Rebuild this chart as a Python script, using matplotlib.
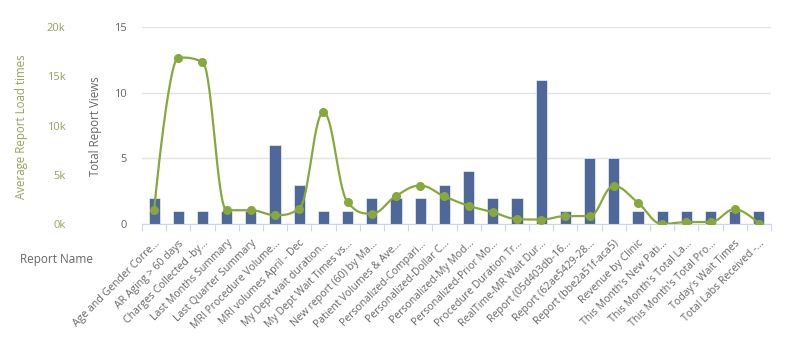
import numpy as np
import matplotlib
matplotlib.use("Agg")
import matplotlib.pyplot as plt
from matplotlib.ticker import FixedLocator, NullFormatter, FuncFormatter

plt.rcParams['font.family'] = ['Open Sans', 'DejaVu Sans']

report_names = [
    "Age and Gender Corre...", "AR Aging > 60 days", "Charges Collected -by...",
    "Last Months Summary", "Last Quarter Summary", "MRI Procedure Volume...",
    "MRI volumes April - Dec", "My Dept wait duration...", "My Dept Wait Times vs...",
    "New report (60) by Ma...", "Patient Volumes & Ave...", "Personalized-Compari...",
    "Personalized-Dollar C...", "Personalized-My Mod...", "Personalized-Prior Mo...",
    "Procedure Duration Tr...", "RealTime-MR Wait Dur...", "Report (05d403db-16...",
    "Report (62ae5429-28...", "Report (bbe2a51f-aca5)", "Revenue by Clinic",
    "This Month's New Pati...", "This Month's Total La...", "This Month's Total Pro...",
    "Today's Wait Times", "Total Labs Received -...",
]
total_views = [2, 1, 1, 1, 1, 6, 3, 1, 1, 2, 2, 2, 3, 4, 2, 2, 11, 1, 5, 5, 1, 1, 1, 1, 1, 1]
avg_load_times = [1400, 16900, 16450, 1400, 1400, 900, 1550, 11350, 2200, 1050,
                  2850, 3900, 2800, 1850, 1200, 500, 450, 800, 800, 3850,
                  2150, 0, 200, 200, 1500, 30]

left_ticks = [0, 5000, 10000, 15000, 20000]
right_ticks = [0, 5, 10, 15]

BAR_COLOR = "#4d6899"
LINE_COLOR = "#87a83a"
LOAD_TEXT = "#94a35a"
GRAY_TEXT = "#666666"


def spline_path(xs, ys, smoothing=1.5, samples=30):
    """Smooth curve through the points using neighbour-based Bezier control points."""
    n = len(xs)
    lc = [(x, y) for x, y in zip(xs, ys)]
    rc = [(x, y) for x, y in zip(xs, ys)]
    d = smoothing + 1
    for i in range(1, n - 1):
        px, py = xs[i], ys[i]
        lx, ly = xs[i - 1], ys[i - 1]
        nx, ny = xs[i + 1], ys[i + 1]
        lcx = (smoothing * px + lx) / d
        lcy = (smoothing * py + ly) / d
        rcx = (smoothing * px + nx) / d
        rcy = (smoothing * py + ny) / d
        if rcx != lcx:
            corr = (rcy - lcy) * (rcx - px) / (rcx - lcx) + py - rcy
            lcy += corr
            rcy += corr
            if lcy > ly and lcy > py:
                lcy = max(ly, py)
                rcy = 2 * py - lcy
            elif lcy < ly and lcy < py:
                lcy = min(ly, py)
                rcy = 2 * py - lcy
            if rcy > ny and rcy > py:
                rcy = max(ny, py)
                lcy = 2 * py - rcy
            elif rcy < ny and rcy < py:
                rcy = min(ny, py)
                lcy = 2 * py - rcy
        lc[i] = (lcx, lcy)
        rc[i] = (rcx, rcy)
    t = np.linspace(0, 1, samples)
    out_x, out_y = [], []
    for i in range(1, n):
        p0 = np.array([xs[i - 1], ys[i - 1]])
        p1 = np.array(rc[i - 1])
        p2 = np.array(lc[i])
        p3 = np.array([xs[i], ys[i]])
        pts = ((1 - t) ** 3)[:, None] * p0 + (3 * (1 - t) ** 2 * t)[:, None] * p1 \
            + (3 * (1 - t) * t ** 2)[:, None] * p2 + (t ** 3)[:, None] * p3
        out_x.extend(pts[:, 0])
        out_y.extend(pts[:, 1])
    return np.array(out_x), np.array(out_y)


fig = plt.figure(figsize=(8.0, 3.47), dpi=100)
ax = fig.add_axes([142 / 800, 1 - 224 / 347, 629 / 800, 197 / 347])

n = len(report_names)
x = np.arange(n)
ax.bar(x, total_views, width=0.46, color=BAR_COLOR, edgecolor="white", linewidth=0.4, zorder=2)
ax.set_xlim(-0.5, n - 0.5)
ax.set_ylim(0, 15)
ax.set_yticks(right_ticks)
ax.yaxis.grid(True, color="#e3e3e3", linewidth=1.0, zorder=0)
ax.set_axisbelow(True)
for s in ["top", "right", "left"]:
    ax.spines[s].set_visible(False)
ax.spines["bottom"].set_color("#ccd6eb")
ax.tick_params(axis="y", length=0, pad=11, labelsize=8, labelcolor=GRAY_TEXT)

ax.xaxis.set_major_locator(FixedLocator(x))
ax.xaxis.set_minor_locator(FixedLocator(np.arange(n + 1) - 0.5))
ax.xaxis.set_minor_formatter(NullFormatter())
ax.set_xticklabels(report_names, rotation=45, ha="right", va="top",
                   rotation_mode="anchor", fontsize=7.6, color=GRAY_TEXT)
ax.tick_params(axis="x", which="major", length=0, pad=10)
ax.tick_params(axis="x", which="minor", length=5, color="#ccd6eb", width=0.8)

ax2 = ax.twinx()
ax2.set_ylim(0, 20000)
sx, sy = spline_path(list(x.astype(float)), avg_load_times)
ax2.plot(sx, sy, color=LINE_COLOR, linewidth=1.6, zorder=3, solid_capstyle="round")
ax2.plot(x, avg_load_times, linestyle="none", marker="o", markersize=5.5,
         color=LINE_COLOR, zorder=4)
ax2.set_yticks(left_ticks)
ax2.yaxis.set_major_formatter(FuncFormatter(lambda v, p: f"{int(v / 1000)}k"))
ax2.yaxis.tick_left()
ax2.tick_params(axis="y", length=0, pad=55, labelsize=8, labelcolor=LOAD_TEXT)
for s in ax2.spines.values():
    s.set_visible(False)

fig.text(22 / 800, 1 - 127 / 347, "Average Report Load times", rotation=90,
         ha="center", va="center", fontsize=8.3, color=LOAD_TEXT)
fig.text(95 / 800, 1 - 126 / 347, "Total Report Views", rotation=90,
         ha="center", va="center", fontsize=8.3, color=GRAY_TEXT)
fig.text(20 / 800, 1 - 260 / 347, "Report Name", ha="left", va="center",
         fontsize=8.5, color=GRAY_TEXT)

fig.savefig("out.png", dpi=100, facecolor="white")
